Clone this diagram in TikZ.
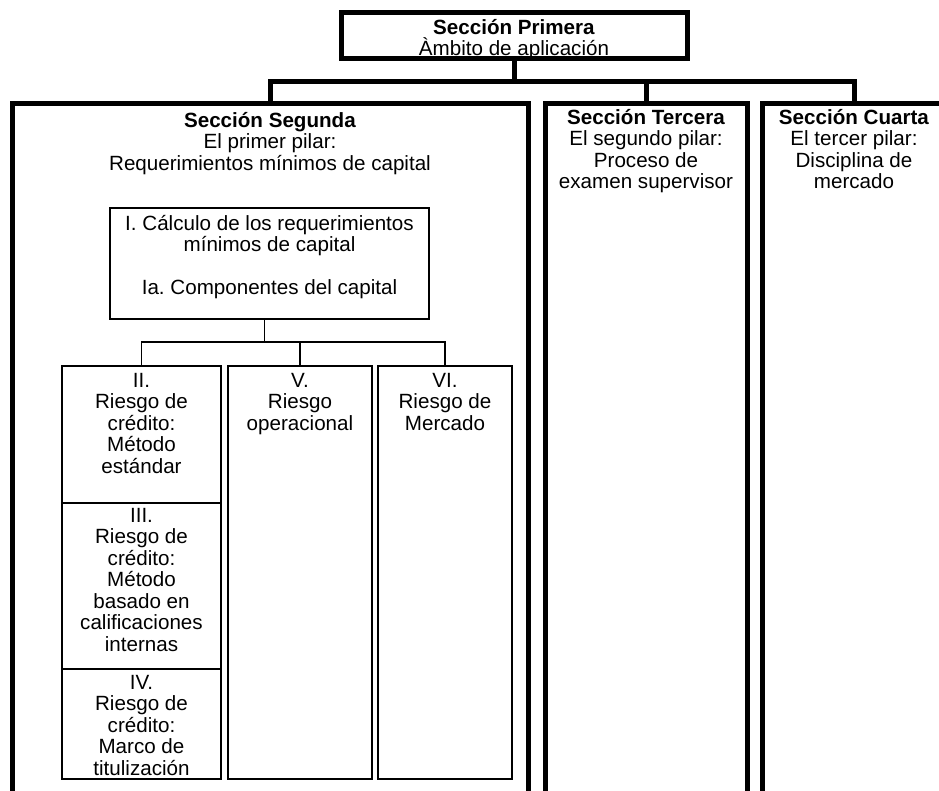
\documentclass[tikz,border=0pt]{standalone}
\usepackage{fontspec}
\setmainfont{Liberation Sans}
\frenchspacing
% fixed height for the first line of every label
\newcommand{\firstline}{\rule{0pt}{20pt}}
\begin{document}
\begin{tikzpicture}[x=1pt,y=-1pt,
  heavybox/.style={draw, line width=5pt, inner sep=0pt, outer sep=0pt, anchor=north west},
  lightbox/.style={draw, line width=1.4pt, inner sep=0pt, outer sep=0pt, anchor=north west},
  label text/.style={align=center, anchor=north, inner sep=0pt, outer sep=0pt,
    font=\fontsize{20.6pt}{21.5pt}\selectfont},
  heavy link/.style={line width=5pt},
  light link/.style={line width=1.4pt}]

\useasboundingbox (0,0) rectangle (939,790);
\clip (0,0) rectangle (939,790);

% --- top level ---
\node[heavybox, minimum width=346pt, minimum height=46pt] (primera) at (341,12) {};
\node[label text] (primeraT) at (514,14) {\firstline\textbf{Sección Primera}\\Àmbito de aplicación};

% --- the three pillars (open towards the bottom) ---
\node[heavybox, minimum width=516pt, minimum height=720pt] (segunda) at (12,103) {};
\node[heavybox, minimum width=202pt, minimum height=720pt] (tercera) at (545,103) {};
\node[heavybox, minimum width=184pt, minimum height=720pt] (cuarta) at (762,103) {};

\node[label text] (segundaT) at (270,107) {\firstline\textbf{Sección Segunda}\\El primer pilar:\\Requerimientos mínimos de capital};
\node[label text] (terceraT) at (646,104) {\firstline\textbf{Sección Tercera}\\El segundo pilar:\\Proceso de\\examen supervisor};
\node[label text] (cuartaT) at (854,104) {\firstline\textbf{Sección Cuarta}\\El tercer pilar:\\Disciplina de\\mercado};

% connectors from the top box to the pillars
\coordinate (bar) at (0,81);
\draw[heavy link] (primera.south) -- (primera.south |- bar);
\draw[heavy link] (segunda.north) -- (segunda.north |- bar) -- (cuarta.north |- bar) -- (cuarta.north);
\draw[heavy link] (tercera.north) -- (tercera.north |- bar);

% --- first pillar contents ---
\node[lightbox, minimum width=319pt, minimum height=111pt] (calc) at (110,208) {};
\node[label text] (calcT) at (269.5,210) {\firstline I. Cálculo de los requerimientos\\mínimos de capital\\[21.5pt]Ia. Componentes del capital};

\node[lightbox, minimum width=159pt, minimum height=137pt] (r2) at (62,366) {};
\node[lightbox, minimum width=159pt, minimum height=166pt] (r3) at (62,503) {};
\node[lightbox, minimum width=159pt, minimum height=110pt] (r4) at (62,669) {};
\node[lightbox, minimum width=144pt, minimum height=413pt] (r5) at (228,366) {};
\node[lightbox, minimum width=134pt, minimum height=413pt] (r6) at (378,366) {};

\node[label text] (r2T) at (141.5,367) {\firstline II.\\Riesgo de\\crédito:\\Método\\estándar};
\node[label text] (r3T) at (141.5,502) {\firstline III.\\Riesgo de\\crédito:\\Método\\basado en\\calificaciones\\internas};
\node[label text] (r4T) at (141.5,669) {\firstline IV.\\Riesgo de\\crédito:\\Marco de\\titulización};
\node[label text] (r5T) at (300,367) {\firstline V.\\Riesgo\\operacional};
\node[label text] (r6T) at (445,367) {\firstline VI.\\Riesgo de\\Mercado};

% connectors from the calculation box to the risk boxes
\coordinate (bar2) at (0,342);
\coordinate (calcOut) at ([xshift=-5pt]calc.south);
\draw[light link] (calcOut) -- (calcOut |- bar2);
\draw[light link] (r2.north) -- (r2.north |- bar2) -- (r6.north |- bar2) -- (r6.north);
\draw[light link] (r5.north) -- (r5.north |- bar2);

\end{tikzpicture}
\end{document}
